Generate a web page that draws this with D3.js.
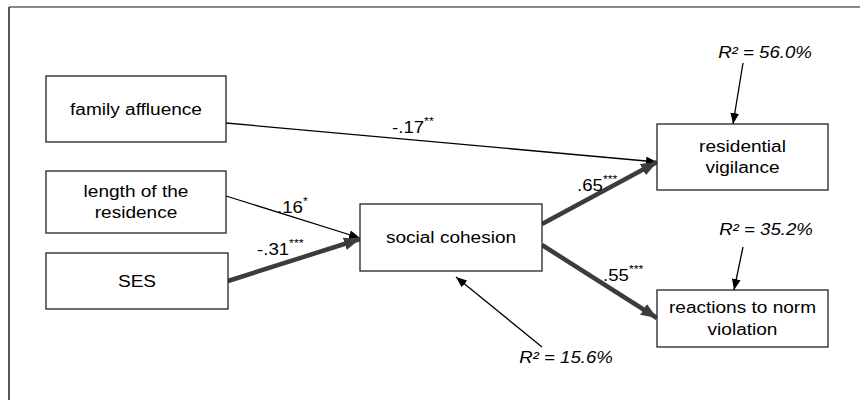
<!DOCTYPE html>
<html>
<head>
<meta charset="utf-8">
<script src="https://cdn.jsdelivr.net/npm/d3@7"></script>
<style>
  body { margin: 0; background: #fff; }
  svg text { font-family: "Liberation Sans", Arial, sans-serif; }
</style>
</head>
<body>
<div id="chart"></div>
<script>
// model content
const nodeIds    = ['fam', 'len', 'ses', 'coh', 'vig', 'rea'];
const nodeLabels = [['family affluence'], ['length of the', 'residence'], ['SES'], ['social cohesion'], ['residential', 'vigilance'], ['reactions to norm', 'violation']];
const pathFrom   = ['fam', 'len', 'ses', 'coh', 'coh'];
const pathTo     = ['vig', 'coh', 'coh', 'vig', 'rea'];
const pathCoef   = ['-.17', '.16', '-.31', '.65', '.55'];
const pathStars  = ['**', '*', '***', '***', '***'];
const r2Nodes    = ['vig', 'rea', 'coh'];
const r2Values   = [56.0, 35.2, 15.6];

// layout (pixel positions of the drawing)
const boxes = {
  fam: { x: 46,  y: 76,  w: 180, h: 66 },
  len: { x: 46,  y: 171, w: 180, h: 62 },
  ses: { x: 46,  y: 253, w: 182, h: 56 },
  coh: { x: 360, y: 204, w: 182, h: 67 },
  vig: { x: 657, y: 124, w: 171, h: 66 },
  rea: { x: 657, y: 290, w: 171, h: 57 }
};
const pathGeom = [
  { x1: 226, y1: 123, x2: 657, y2: 162, thick: false, lx: 392, ly: 133 },
  { x1: 226, y1: 196, x2: 360, y2: 238, thick: false, lx: 277, ly: 213 },
  { x1: 228, y1: 281, x2: 360, y2: 239, thick: true,  lx: 257, ly: 255 },
  { x1: 542, y1: 224, x2: 657, y2: 162, thick: true,  lx: 577, ly: 191 },
  { x1: 542, y1: 245, x2: 657, y2: 318, thick: true,  lx: 603, ly: 281 }
];
const r2Geom = [
  { tx: 765, ty: 58,  x1: 743, y1: 63,  x2: 733, y2: 124 },
  { tx: 766, ty: 235, x1: 743, y1: 247, x2: 734, y2: 290 },
  { tx: 566, ty: 363, x1: 542, y1: 347, x2: 456, y2: 277 }
];

// the source picture is stretched sideways, so text is widened a little
const nodeFont = 16, nodeStretch = 1.19;
const noteFont = 16.5, noteStretch = 1.13;

const W = 860, H = 400;
const svg = d3.select('#chart').append('svg').attr('width', W).attr('height', H);

const defs = svg.append('defs');
defs.append('marker').attr('id', 'headThin')
  .attr('viewBox', '0 0 10 8').attr('refX', 10).attr('refY', 4)
  .attr('markerUnits', 'userSpaceOnUse').attr('markerWidth', 11).attr('markerHeight', 9)
  .attr('orient', 'auto')
  .append('path').attr('d', 'M0,0 L10,4 L0,8 Z').attr('fill', '#000');
defs.append('marker').attr('id', 'headThick')
  .attr('viewBox', '0 0 10 8').attr('refX', 10).attr('refY', 4)
  .attr('markerUnits', 'userSpaceOnUse').attr('markerWidth', 16).attr('markerHeight', 13)
  .attr('orient', 'auto')
  .append('path').attr('d', 'M0,0 L10,4 L0,8 Z').attr('fill', '#3c3c3c');

// frame
svg.append('line').attr('x1', 9).attr('y1', 7).attr('x2', W).attr('y2', 7)
  .attr('stroke', '#8a8a8a').attr('stroke-width', 2);
svg.append('line').attr('x1', 9).attr('y1', 7).attr('x2', 9).attr('y2', H)
  .attr('stroke', '#222').attr('stroke-width', 1.5);

const nodes = nodeIds.map((id, i) => ({ id, lines: nodeLabels[i], ...boxes[id] }));

// paths
const paths = pathFrom.map((f, i) => ({ from: f, to: pathTo[i], coef: pathCoef[i], stars: pathStars[i], ...pathGeom[i] }));

svg.selectAll('.path').data(paths).enter().append('line')
  .attr('class', 'path')
  .attr('x1', d => d.x1).attr('y1', d => d.y1)
  .attr('x2', d => d.x2).attr('y2', d => d.y2)
  .attr('stroke', d => d.thick ? '#3c3c3c' : '#000')
  .attr('stroke-width', d => d.thick ? 4.5 : 1.3)
  .attr('marker-end', d => d.thick ? 'url(#headThick)' : 'url(#headThin)');

const coefLabels = svg.selectAll('.coef').data(paths).enter().append('text')
  .attr('class', 'coef')
  .attr('transform', d => `translate(${d.lx},${d.ly}) scale(${noteStretch},1)`)
  .attr('font-size', noteFont).attr('fill', '#000');
coefLabels.append('tspan').text(d => d.coef);
coefLabels.append('tspan').attr('dy', -8).attr('font-size', 11).text(d => d.stars);

// boxes
const g = svg.selectAll('.node').data(nodes).enter().append('g').attr('class', 'node');
g.append('rect')
  .attr('x', d => d.x).attr('y', d => d.y)
  .attr('width', d => d.w).attr('height', d => d.h)
  .attr('fill', '#fff').attr('stroke', '#222').attr('stroke-width', 1.3);
g.each(function(d) {
  const n = d.lines.length, lh = 21.5;
  const cy = d.y + d.h / 2;
  d3.select(this).selectAll('text').data(d.lines).enter().append('text')
    .attr('transform', (t, j) => `translate(${d.x + d.w / 2},${cy + (j - (n - 1) / 2) * lh + 5.5}) scale(${nodeStretch},1)`)
    .attr('text-anchor', 'middle')
    .attr('font-size', nodeFont)
    .text(t => t);
});

// R² annotations
const r2 = r2Nodes.map((id, i) => ({ id, value: r2Values[i], ...r2Geom[i] }));
svg.selectAll('.r2line').data(r2).enter().append('line')
  .attr('class', 'r2line')
  .attr('x1', d => d.x1).attr('y1', d => d.y1)
  .attr('x2', d => d.x2).attr('y2', d => d.y2)
  .attr('stroke', '#000').attr('stroke-width', 1.3)
  .attr('marker-end', 'url(#headThin)');
svg.selectAll('.r2text').data(r2).enter().append('text')
  .attr('class', 'r2text')
  .attr('transform', d => `translate(${d.tx},${d.ty}) scale(${noteStretch},1)`)
  .attr('text-anchor', 'middle')
  .attr('font-size', noteFont).attr('font-style', 'italic')
  .text(d => `R² = ${d.value.toFixed(1)}%`);
</script>
</body>
</html>
